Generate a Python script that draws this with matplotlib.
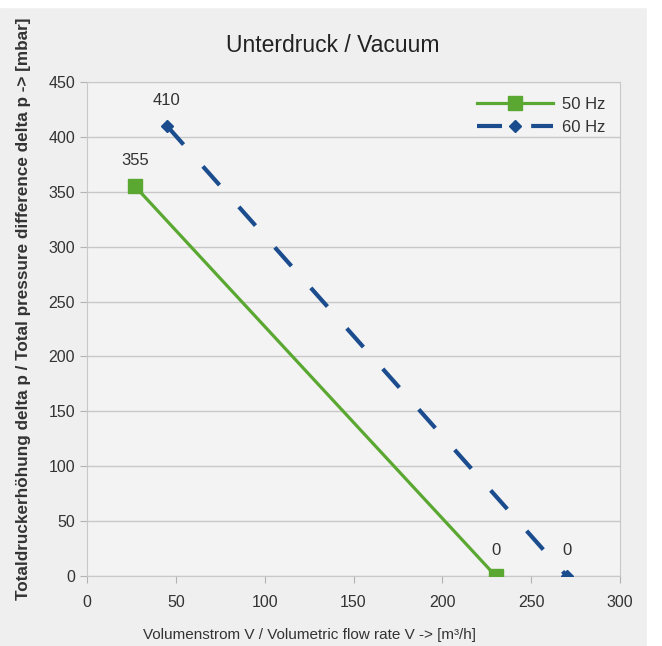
import matplotlib.pyplot as plt
from matplotlib.patches import Rectangle

# data
flow_50 = [27, 230]
dp_50 = [355, 0]
flow_60 = [45, 270]
dp_60 = [410, 0]

x_ticks = [0, 50, 100, 150, 200, 250, 300]
y_ticks = [0, 50, 100, 150, 200, 250, 300, 350, 400, 450]

plt.rcParams['font.family'] = ['Liberation Sans', 'DejaVu Sans']

fig = plt.figure(figsize=(6.62, 6.46), dpi=100)
fig.patch.set_facecolor('#efefef')
# white strips at the top and the right edge of the original screenshot
fig.patches.append(Rectangle((0, 0.989), 1, 0.011, transform=fig.transFigure, color='white', zorder=0))
fig.patches.append(Rectangle((0.978, 0), 0.022, 1, transform=fig.transFigure, color='white', zorder=0))

ax = fig.add_axes([0.1314, 0.1084, 0.8052, 0.7647])
ax.set_facecolor('#f3f3f3')

green = '#5aa832'
blue = '#1a4c8e'

ax.plot(flow_50, dp_50, color=green, lw=2.3, marker='s', ms=9.5, label='50 Hz', zorder=3)
ax.plot(flow_60, dp_60, color=blue, lw=3, dashes=(6, 7), marker='D', ms=6.5, label='60 Hz', zorder=3)

for x, y in zip(flow_50, dp_50):
    ax.annotate(str(y), (x, y), xytext=(0, 13), textcoords='offset points', ha='center', va='bottom', fontsize=12, color='#333333')
for x, y in zip(flow_60, dp_60):
    ax.annotate(str(y), (x, y), xytext=(0, 13), textcoords='offset points', ha='center', va='bottom', fontsize=12, color='#333333')

ax.set_xlim(0, 300)
ax.set_ylim(0, 450)
ax.set_xticks(x_ticks)
ax.set_yticks(y_ticks)
ax.tick_params(colors='#b3b3b3', labelcolor='#333333', labelsize=11.5, length=5, direction='out')
ax.tick_params(axis='x', pad=9)
ax.yaxis.grid(True, color='#c8c8c8', lw=1)
ax.set_axisbelow(True)
for s in ax.spines.values():
    s.set_color('#c8c8c8')

fig.text(0.503, 0.93, 'Unterdruck / Vacuum', fontsize=16.5, color='#222222', ha='center', va='center')
ax.set_xlabel('Volumenstrom V / Volumetric flow rate V -> [m³/h]', fontsize=11, color='#333333')
ax.xaxis.set_label_coords(0.418, -0.105)
ax.set_ylabel('Totaldruckerhöhung delta p / Total pressure difference delta p -> [mbar]', fontsize=12.3,
              fontweight='bold', color='#333333')
ax.yaxis.set_label_coords(-0.105, 0.54)

leg = ax.legend(loc='upper right', frameon=False, fontsize=12, handlelength=4.6, labelcolor='#333333',
                bbox_to_anchor=(1.0, 1.0), borderaxespad=0.5, handletextpad=0.5)

fig.savefig('out.png', dpi=100, facecolor=fig.get_facecolor())
